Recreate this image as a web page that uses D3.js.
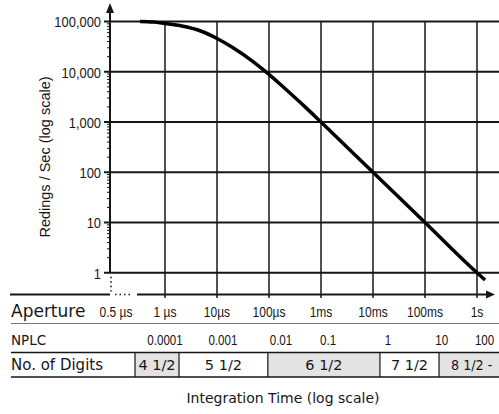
<!DOCTYPE html>
<html>
<head>
<meta charset="utf-8">
<script src="https://cdn.jsdelivr.net/npm/d3@7/dist/d3.min.js"></script>
<style>
  html, body { margin: 0; padding: 0; background: #fff; }
  svg { display: block; }
</style>
</head>
<body>
<svg id="chart" width="499" height="414"></svg>
<script>
// ---- data ----
const yTicks = [1, 10, 100, 1000, 10000, 100000];
const xDecades = [1e-6, 1e-5, 1e-4, 1e-3, 1e-2, 1e-1, 1];
const apertureLabels = ["0.5 µs", "1 µs", "10µs", "100µs", "1ms", "10ms", "100ms", "1s"];
const apertureTimes = [5e-7, 1e-6, 1e-5, 1e-4, 1e-3, 1e-2, 1e-1, 1];
const nplcLabels = ["0.0001", "0.001", "0.01", "0.1", "1", "10", "100"];
const nplcTimes = [1e-6, 1.3e-5, 1.7e-4, 1.37e-3, 1.94e-2, 0.21, 1.4];
const digitLabels = ["4 1/2", "5 1/2", "6 1/2", "7 1/2", "8 1/2 -"];
const digitStart = [2.65e-7, 1.86e-6, 9.5e-5, 1.36e-2, 0.186];
const digitEnd = [1.86e-6, 9.5e-5, 1.36e-2, 0.186, 20];
const digitShaded = [true, false, true, false, true];
const curveTime = [3.3e-7, 6e-7, 1e-6, 2e-6, 5e-6, 1e-5, 2e-5, 5e-5, 1e-4, 2e-4, 5e-4, 1e-3, 1e-2, 1e-1, 1, 1.43];
const curveRate = [100000, 97500, 91000, 82000, 64000, 46000, 30500, 15800, 8900, 4700, 1980, 1000, 100, 10, 1, 0.72];

// ---- layout ----
const svg = d3.select("#chart");
const x = d3.scaleLog().domain([1e-6, 1]).range([165, 477]);
const y = d3.scaleLog().domain([1, 1e5]).range([272.8, 21.5]);
const axisX = 110, baseY = 294.5, breakX = 116, rightX = 499;
const ink = "#161616";
const SANS = "'Liberation Sans', Arial, sans-serif";
const WIDE = "'DejaVu Sans', sans-serif";

function condense(sel, f) {
  sel.each(function () {
    const L = this.getComputedTextLength();
    d3.select(this).attr("textLength", L * f).attr("lengthAdjust", "spacingAndGlyphs");
  });
}

// horizontal gridlines
svg.append("g").selectAll("line").data(yTicks).join("line")
  .attr("x1", 104).attr("x2", rightX)
  .attr("y1", d => y(d)).attr("y2", d => y(d))
  .attr("stroke", ink).attr("stroke-width", 2);

// vertical gridlines
svg.append("g").selectAll("line").data(xDecades).join("line")
  .attr("x1", d => x(d)).attr("x2", d => x(d))
  .attr("y1", y(1e5)).attr("y2", baseY + 3.5)
  .attr("stroke", ink).attr("stroke-width", 1.5);

// minor ticks on y axis
const minors = [];
yTicks.slice(0, -1).forEach(d => { for (let k = 2; k <= 9; k++) minors.push(d * k); });
svg.append("g").selectAll("line").data(minors).join("line")
  .attr("x1", axisX - 3).attr("x2", axisX)
  .attr("y1", d => y(d)).attr("y2", d => y(d))
  .attr("stroke", ink).attr("stroke-width", 1);

// y axis line + arrow
svg.append("line").attr("x1", axisX).attr("x2", axisX)
  .attr("y1", y(1)).attr("y2", 10).attr("stroke", ink).attr("stroke-width", 2);
svg.append("path").attr("d", `M${axisX},3 L${axisX - 4},13 L${axisX + 4},13 Z`).attr("fill", ink);
// dotted break of y axis
svg.append("line").attr("x1", axisX + 1).attr("x2", axisX + 1)
  .attr("y1", y(1) + 4).attr("y2", baseY - 3)
  .attr("stroke", ink).attr("stroke-width", 1.6).attr("stroke-dasharray", "1.5,3");

// x axis (broken)
svg.append("line").attr("x1", 10).attr("x2", axisX).attr("y1", baseY).attr("y2", baseY)
  .attr("stroke", ink).attr("stroke-width", 2);
svg.append("line").attr("x1", 115).attr("x2", 132).attr("y1", baseY).attr("y2", baseY)
  .attr("stroke", ink).attr("stroke-width", 1.6).attr("stroke-dasharray", "1.5,3");
svg.append("line").attr("x1", 137).attr("x2", 490).attr("y1", baseY).attr("y2", baseY)
  .attr("stroke", ink).attr("stroke-width", 2);
svg.append("path").attr("d", `M495,${baseY} L486,${baseY - 4} L486,${baseY + 4} Z`).attr("fill", ink);

// y tick labels
const yAxis = d3.axisLeft(y).tickValues(yTicks).tickFormat(d3.format(",")).tickSize(0).tickPadding(9);
const yg = svg.append("g").attr("transform", `translate(${axisX},0)`).call(yAxis);
yg.select(".domain").remove();
yg.attr("font-family", SANS).attr("font-size", 15);
yg.selectAll("text").attr("fill", ink).attr("dy", "0.36em");
condense(yg.selectAll("text"), 0.86);

// y title
svg.append("text").attr("transform", "translate(50,157) rotate(-90)")
  .attr("text-anchor", "middle").attr("font-family", SANS)
  .attr("font-size", 14.5).attr("fill", ink).text("Redings / Sec (log scale)");

// curve
const line = d3.line().x(d => x(d[0])).y(d => y(d[1])).curve(d3.curveMonotoneX);
svg.append("path").datum(curveTime.map((t, i) => [t, curveRate[i]]))
  .attr("d", line).attr("fill", "none").attr("stroke", "#000").attr("stroke-width", 3.5)
  .attr("stroke-linecap", "butt");

// ---- table rows ----
svg.append("text").attr("x", 11).attr("y", 316.5)
  .attr("font-family", WIDE).attr("font-size", 17).attr("fill", ink).text("Aperture");
const apT = svg.append("g").selectAll("text").data(apertureLabels).join("text")
  .attr("x", (d, i) => i === 0 ? breakX : x(apertureTimes[i]))
  .attr("y", 316.5).attr("text-anchor", "middle")
  .attr("font-family", SANS).attr("font-size", 15).attr("fill", ink)
  .text(d => d);
condense(apT, 0.8);

svg.append("line").attr("x1", 11).attr("x2", rightX).attr("y1", 323.5).attr("y2", 323.5)
  .attr("stroke", "#777").attr("stroke-width", 1);

svg.append("text").attr("x", 11).attr("y", 345)
  .attr("font-family", WIDE).attr("font-size", 13.5).attr("fill", ink).text("NPLC");
const npT = svg.append("g").selectAll("text").data(nplcLabels).join("text")
  .attr("x", (d, i) => x(nplcTimes[i]))
  .attr("y", 345).attr("text-anchor", "middle")
  .attr("font-family", SANS).attr("font-size", 14.5).attr("fill", ink)
  .text(d => d);
condense(npT, 0.8);

// digits boxes
const cells = svg.append("g");
digitLabels.forEach((lab, i) => {
  const x0 = x(digitStart[i]), x1 = Math.min(x(digitEnd[i]), rightX + 5);
  cells.append("rect").attr("x", x0).attr("y", 352.5).attr("width", x1 - x0).attr("height", 24.5)
    .attr("fill", digitShaded[i] ? "#e3e3e3" : "#fff");
});
svg.append("line").attr("x1", 11).attr("x2", rightX).attr("y1", 352.5).attr("y2", 352.5)
  .attr("stroke", ink).attr("stroke-width", 1.5);
svg.append("line").attr("x1", 11).attr("x2", rightX).attr("y1", 377).attr("y2", 377)
  .attr("stroke", ink).attr("stroke-width", 1.5);
svg.append("g").selectAll("line").data(digitStart).join("line")
  .attr("x1", d => x(d)).attr("x2", d => x(d)).attr("y1", 352.5).attr("y2", 377)
  .attr("stroke", ink).attr("stroke-width", 1.2);
const dgT = svg.append("g").selectAll("text").data(digitLabels).join("text")
  .attr("x", (d, i) => i === digitLabels.length - 1 ? x(digitStart[i]) + 12 : (x(digitStart[i]) + x(digitEnd[i])) / 2)
  .attr("text-anchor", (d, i) => i === digitLabels.length - 1 ? "start" : "middle")
  .attr("y", 370).attr("font-family", WIDE).attr("font-size", 14.5).attr("fill", ink)
  .text(d => d);
condense(dgT.filter((d, i) => i === digitLabels.length - 1), 0.88);
svg.append("text").attr("x", 11).attr("y", 370)
  .attr("font-family", WIDE).attr("font-size", 15).attr("fill", ink).text("No. of Digits");

// x title
svg.append("text").attr("x", 283).attr("y", 403).attr("text-anchor", "middle")
  .attr("font-family", WIDE).attr("font-size", 14).attr("fill", ink)
  .text("Integration Time (log scale)");
</script>
</body>
</html>
